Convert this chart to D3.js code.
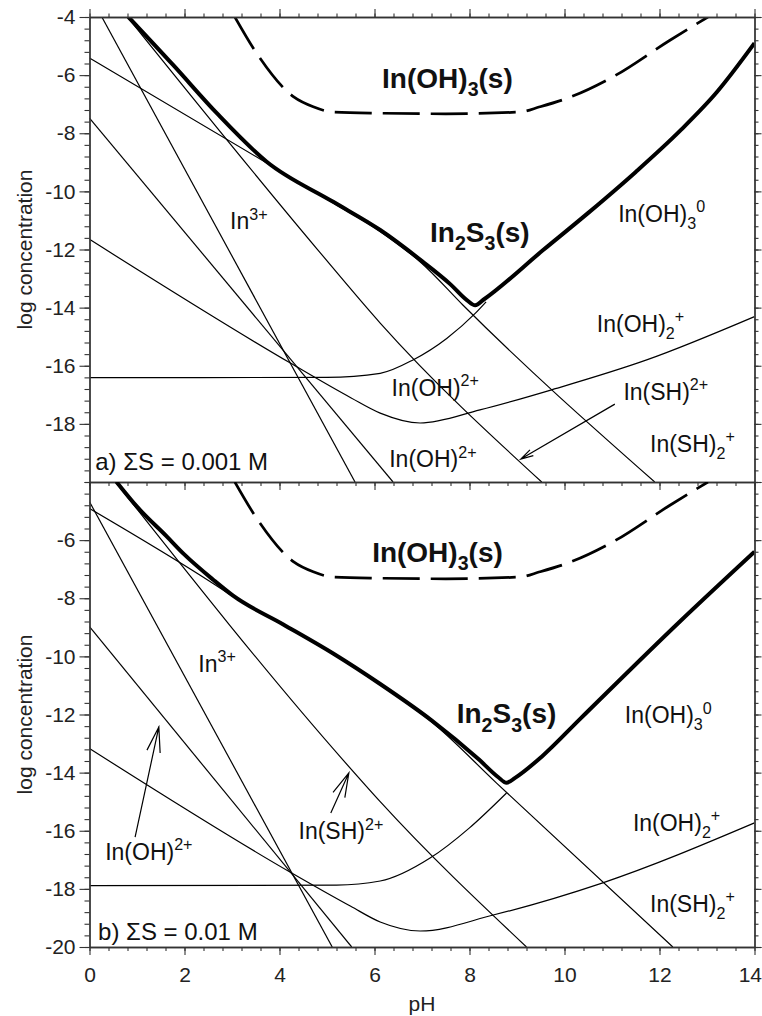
<!DOCTYPE html>
<html>
<head>
<meta charset="utf-8">
<script src="https://cdn.jsdelivr.net/npm/d3@7"></script>
<style>
body { margin: 0; background: #fff; }
svg { font-family: "Liberation Sans", Arial, Helvetica, sans-serif; }
</style>
</head>
<body>
<svg width="762" height="1016"></svg>
<script>
// all series are [pH, log concentration]
var xTicks = [0, 2, 4, 6, 8, 10, 12, 14];
var yTicksA = [-4, -6, -8, -10, -12, -14, -16, -18];
var yTicksB = [-6, -8, -10, -12, -14, -16, -18, -20];

// In(OH)3(s) solubility, same in both panels
var solOH3 = [[3.06, -4], [3.52, -5.25], [4.3, -6.75], [4.71, -7.09], [5.13, -7.27], [6.12, -7.31], [7.5, -7.33],
    [9.06, -7.27], [9.48, -7.09], [10.05, -6.8], [11.03, -6.05], [12.22, -4.8], [13.02, -4]];

// a) total S = 0.001 M
var a_total = [[0.82, -4], [1.76, -5.65], [2.68, -7.31], [3.73, -8.98], [5.13, -10.36], [6.12, -11.33], [7.0, -12.4],
    [7.6, -13.2], [7.95, -13.75], [8.12, -13.92], [8.3, -13.72], [9.55, -12.02], [10.5, -10.74], [11.5, -9.33],
    [12.43, -7.92], [13.2, -6.6], [14, -4.9]];
var a_In3 = [[0.26, -4], [5.59, -20]];
var a_InOH = [[0, -7.48], [6.39, -20]];
var a_InOH2 = [[0, -11.65], [4.22, -15.9], [5.5, -17.1], [6.12, -17.63], [6.96, -17.97], [8.22, -17.52],
    [9.83, -16.78], [11.73, -15.8], [14, -14.31]];
var a_InOH3 = [[0, -16.41], [5.0, -16.4], [6.12, -16.26], [6.81, -15.8], [7.52, -15.06], [8.12, -14.2], [8.35, -13.8]];
var a_InSH = [[0.8, -4], [4.81, -12.02], [6.12, -14.53], [9.52, -20]];
var a_InSH2 = [[0, -5.41], [3.73, -9.02], [5.13, -10.4], [6.12, -11.38], [7.0, -12.48], [7.86, -13.91], [11.9, -20]];

// b) total S = 0.01 M
var b_total = [[0.57, -4], [1.0, -4.85], [1.63, -5.88], [2.0, -6.5], [2.61, -7.37], [3.03, -7.92], [4.08, -8.9],
    [5.13, -9.9], [6.12, -10.95], [7.2, -12.2], [8.2, -13.55], [8.6, -14.15], [8.78, -14.35], [8.96, -14.18],
    [9.52, -13.45], [10.33, -12.15], [12.43, -8.8], [14, -6.4]];
var b_In3 = [[0, -4.68], [5.11, -20]];
var b_InOH = [[0, -8.98], [5.52, -20]];
var b_InOH2 = [[0, -13.17], [4.22, -17.42], [5.5, -18.6], [6.12, -19.14], [6.96, -19.45], [8.5, -18.9],
    [10.79, -17.8], [14, -15.73]];
var b_InOH3 = [[0, -17.89], [5.2, -17.87], [6.12, -17.73], [7.17, -16.94], [8.0, -15.9], [8.78, -14.7]];
var b_InSH = [[0.55, -4], [5.34, -13.57], [6.12, -15.0], [9.2, -20]];
var b_InSH2 = [[0, -4.91], [2.61, -7.5], [3.03, -7.95], [4.08, -8.93], [5.13, -9.93], [6.12, -10.98], [7.2, -12.25],
    [8.57, -14.36], [12.28, -20]];

var labelsA = [
    { t: "In(OH)_{3}(s)", pH: 6.16, c: -6.44, bold: true },
    { t: "In_{2}S_{3}(s)", pH: 7.17, c: -11.73, bold: true },
    { t: "In(OH)_{3}^{0}", pH: 11.13, c: -11.04 },
    { t: "In^{3+}", pH: 2.96, c: -11.31 },
    { t: "In(OH)_{2}^{+}", pH: 10.68, c: -14.83 },
    { t: "In(OH)^{2+}", pH: 6.36, c: -17.04 },
    { t: "In(OH)^{2+}", pH: 6.31, c: -19.5 },
    { t: "In(SH)^{2+}", pH: 11.24, c: -17.18 },
    { t: "In(SH)_{2}^{+}", pH: 11.8, c: -18.96 },
    { t: "a) ΣS = 0.001 M", pH: 0.12, c: -19.59, size: 24 }
];
var labelsB = [
    { t: "In(OH)_{3}(s)", pH: 5.95, c: -6.75, bold: true },
    { t: "In_{2}S_{3}(s)", pH: 7.73, c: -12.3, bold: true },
    { t: "In(OH)_{3}^{0}", pH: 11.27, c: -12.3 },
    { t: "In^{3+}", pH: 2.29, c: -10.53 },
    { t: "In(OH)_{2}^{+}", pH: 11.44, c: -16.0 },
    { t: "In(SH)_{2}^{+}", pH: 11.8, c: -18.79 },
    { t: "In(SH)^{2+}", pH: 4.4, c: -16.3 },
    { t: "In(OH)^{2+}", pH: 0.33, c: -17.0 },
    { t: "b) ΣS = 0.01 M", pH: 0.18, c: -19.76, size: 24 }
];
var arrowsA = [{ from: [11.06, -17.32], to: [9.08, -19.21], head: 13 }];
var arrowsB = [
    { from: [0.96, -16.22], to: [1.46, -12.43], head: 26 },
    { from: [5.08, -15.39], to: [5.46, -14.01], head: 25 }
];

var svg = d3.select("svg");
var x = d3.scaleLinear().domain([0, 14]).range([89.5, 754.5]);
var minorX = d3.range(0, 14.001, 0.4);
var minorY = d3.range(-20, -3.999, 0.4);
var axisColor = "#333";

var panels = [
    { id: "a", top: 17, bottom: 482, yTicks: yTicksA, labels: labelsA, arrows: arrowsA, first: true,
      thin: [a_In3, a_InOH, a_InOH2, a_InOH3, a_InSH, a_InSH2], thick: a_total },
    { id: "b", top: 482, bottom: 947, yTicks: yTicksB, labels: labelsB, arrows: arrowsB, first: false,
      thin: [b_In3, b_InOH, b_InOH2, b_InOH3, b_InSH, b_InSH2], thick: b_total }
];

function addLabel(g, d, xs, ys) {
    var fs = d.size || (d.bold ? 28 : 23);
    var t = g.append("text")
        .attr("x", xs(d.pH)).attr("y", ys(d.c))
        .attr("fill", "#111")
        .style("font-size", fs + "px")
        .style("font-weight", d.bold ? "bold" : "normal");
    var re = /([_^])\{([^}]*)\}|([^_^]+)/g, m, cur = 0;
    while ((m = re.exec(d.t)) !== null) {
        var shift = 0, size = fs, str = m[3];
        if (m[1]) {
            str = m[2];
            size = fs * 0.7;
            shift = m[1] == "^" ? -0.42 * fs : 0.3 * fs;
        }
        t.append("tspan").attr("dy", shift - cur).style("font-size", size + "px").text(str);
        cur = shift;
    }
}

function addArrow(g, d, xs, ys) {
    var x1 = xs(d.from[0]), y1 = ys(d.from[1]), x2 = xs(d.to[0]), y2 = ys(d.to[1]);
    var ang = Math.atan2(y1 - y2, x1 - x2), s = 15 * Math.PI / 180, h = d.head;
    var p = d3.path();
    p.moveTo(x1, y1);
    p.lineTo(x2, y2);
    p.moveTo(x2 + h * Math.cos(ang - s), y2 + h * Math.sin(ang - s));
    p.lineTo(x2, y2);
    p.lineTo(x2 + h * Math.cos(ang + s), y2 + h * Math.sin(ang + s));
    g.append("path").attr("d", p.toString())
        .attr("fill", "none").attr("stroke", "#000").attr("stroke-width", 1.2);
}

function styleAxis(g) {
    g.selectAll("path.domain").attr("stroke", axisColor).attr("stroke-width", 1.3);
    g.selectAll(".tick line").attr("stroke", axisColor).attr("stroke-width", 1.1);
    g.selectAll(".tick text").attr("fill", "#222").style("font-size", "21px")
        .style("font-family", '"Liberation Sans", Arial, sans-serif');
}

panels.forEach(function (p) {
    var y = d3.scaleLinear().domain([-20, -4]).range([p.bottom, p.top]);
    var line = d3.line().x(d => x(d[0])).y(d => y(d[1])).curve(d3.curveMonotoneX);

    svg.append("clipPath").attr("id", "clip-" + p.id)
        .append("rect").attr("x", x(0)).attr("y", p.top).attr("width", x(14) - x(0)).attr("height", p.bottom - p.top);

    var g = svg.append("g").attr("clip-path", "url(#clip-" + p.id + ")");

    g.selectAll(".thin")
        .data(p.thin)
        .enter().append("path")
        .attr("class", "thin")
        .attr("d", line)
        .attr("fill", "none")
        .attr("stroke", "#000")
        .attr("stroke-width", 1.2);

    g.append("path")
        .attr("d", line(solOH3))
        .attr("fill", "none")
        .attr("stroke", "#000")
        .attr("stroke-width", 2.7)
        .attr("stroke-dasharray", "37,11");

    g.append("path")
        .attr("d", line(p.thick))
        .attr("fill", "none")
        .attr("stroke", "#000")
        .attr("stroke-width", 4)
        .attr("stroke-linejoin", "round");

    var ann = svg.append("g");
    p.labels.forEach(d => addLabel(ann, d, x, y));
    p.arrows.forEach(d => addArrow(ann, d, x, y));

    // axes
    svg.append("g").attr("transform", "translate(" + x(0) + ",0)")
        .call(d3.axisLeft(y).tickValues(minorY).tickSize(5).tickSizeOuter(0).tickFormat(""))
        .call(styleAxis);
    svg.append("g").attr("transform", "translate(" + x(0) + ",0)")
        .call(d3.axisLeft(y).tickValues(p.yTicks).tickSize(10).tickSizeOuter(0).tickPadding(4).tickFormat(d => String(d)))
        .call(styleAxis);
    svg.append("g").attr("transform", "translate(" + x(14) + ",0)")
        .call(d3.axisRight(y).tickValues(minorY).tickSize(4).tickSizeOuter(0).tickFormat(""))
        .call(styleAxis);
    svg.append("g").attr("transform", "translate(" + x(14) + ",0)")
        .call(d3.axisRight(y).tickValues(p.yTicks.concat([-4, -20])).tickSize(7).tickSizeOuter(0).tickFormat(""))
        .call(styleAxis);

    if (p.first) {
        svg.append("g").attr("transform", "translate(0," + p.top + ")")
            .call(d3.axisTop(x).tickValues(minorX).tickSize(3.5).tickSizeOuter(0).tickFormat(""))
            .call(styleAxis);
        svg.append("g").attr("transform", "translate(0," + p.top + ")")
            .call(d3.axisTop(x).tickValues(xTicks).tickSize(8).tickSizeOuter(0).tickFormat(""))
            .call(styleAxis);
    }
    svg.append("g").attr("transform", "translate(0," + p.bottom + ")")
        .call(d3.axisBottom(x).tickValues(minorX).tickSize(4).tickSizeOuter(0).tickFormat(""))
        .call(styleAxis);
    var bx = svg.append("g").attr("transform", "translate(0," + p.bottom + ")")
        .call(d3.axisBottom(x).tickValues(xTicks).tickSize(8).tickSizeOuter(0).tickPadding(12)
            .tickFormat(p.first ? "" : d => String(d)))
        .call(styleAxis);
    // keep the last label inside the page
    bx.selectAll(".tick text").filter(d => d == 14).attr("text-anchor", "end").attr("x", 7);

    svg.append("text")
        .attr("transform", "translate(32," + (p.top + p.bottom) / 2 + ") rotate(-90)")
        .attr("text-anchor", "middle")
        .attr("fill", "#222")
        .style("font-size", "21px")
        .text("log concentration");
});

svg.append("text")
    .attr("x", (x(0) + x(14)) / 2)
    .attr("y", 1011)
    .attr("text-anchor", "middle")
    .attr("fill", "#222")
    .style("font-size", "21px")
    .text("pH");
</script>
</body>
</html>
